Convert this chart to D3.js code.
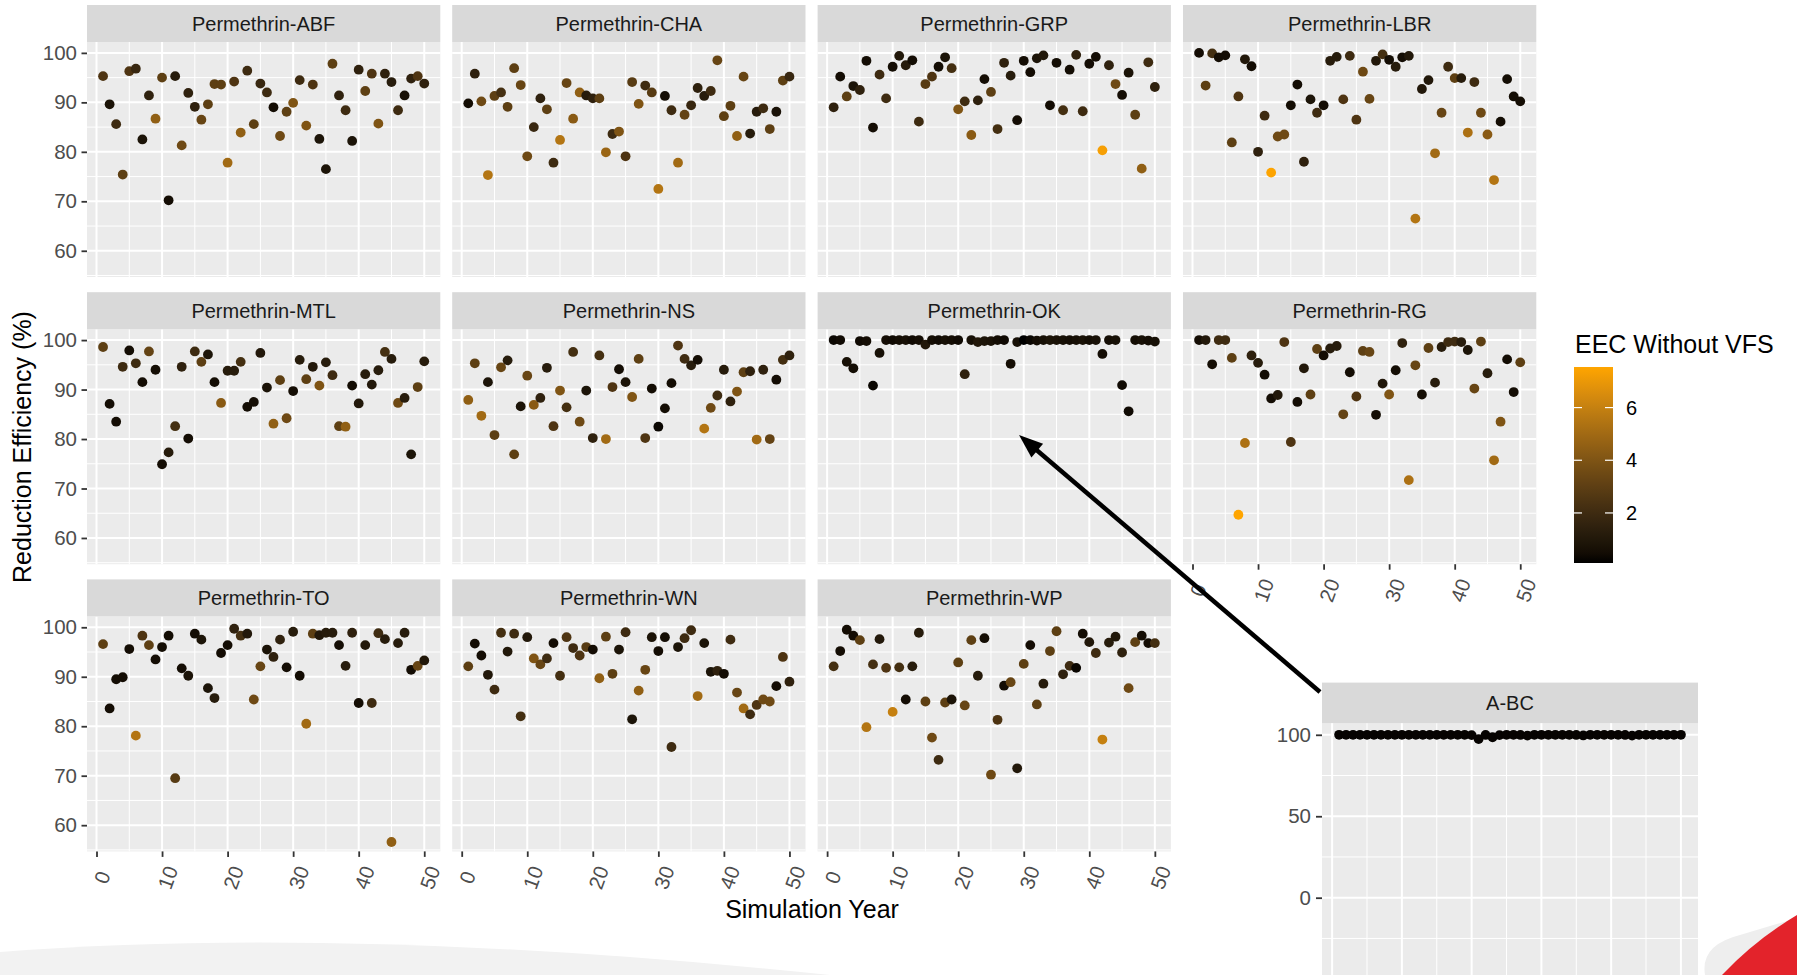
<!DOCTYPE html>
<html><head><meta charset="utf-8">
<script src="https://cdn.jsdelivr.net/npm/d3@7"></script>
<style>
html,body{margin:0;padding:0;background:#fff;}
svg{display:block;font-family:"Liberation Sans",Arial,sans-serif;}
</style></head><body>
<svg id="chart" width="1797" height="975"></svg>
<script>
// Simulation years shared by every facet
const years = d3.range(1, 51);

// Reduction efficiency (%) and EEC without VFS, one pair of arrays per site
const abfEff = [95.3,89.6,85.6,75.4,96.3,96.8,82.5,91.4,86.7,95.0,70.2,95.3,81.3,91.9,89.1,86.5,89.6,93.7,93.6,77.8,94.2,83.9,96.4,85.6,93.8,92.0,89.0,83.2,88.1,89.9,94.5,85.3,93.6,82.6,76.5,97.8,91.4,88.4,82.2,96.6,92.3,95.8,85.7,95.8,94.1,88.4,91.4,94.8,95.3,93.8];
const abfEec = [2.5,0.8,2,3,2.5,1.8,0.8,1.5,4.5,3,0.5,1.2,3.5,1.5,1.5,3.3,3,3,3,5,2.5,4.5,2,3,1.8,2,0.5,3.5,3,4,2,4,2.5,0.8,0.8,3,1.5,2,0.8,1.5,3,2.5,4,1.5,1.2,2,0.7,1.5,2.5,1.5];

const chaEff = [89.8,95.8,90.2,75.3,91.3,92.0,89.1,96.9,93.5,79.1,85.0,90.8,88.6,77.8,82.4,93.9,86.7,92.0,91.4,90.8,90.8,79.9,83.6,84.1,79.1,94.1,89.7,93.4,92.0,72.5,91.3,88.4,77.8,87.5,89.4,92.9,91.3,92.3,98.5,87.2,89.3,83.2,95.2,83.7,88.1,88.8,84.6,88.1,94.4,95.2];
const chaEec = [0.5,1.5,3.5,5.5,3,2.2,3,3,3.3,3.5,1.8,1.5,3,2,5.5,3.3,4.3,4.5,1.2,1.5,3,4.8,2,4,2.5,2.8,4,2,2.8,5.5,0.5,2,5,3.2,1.8,1.5,1.2,2,3.3,3,3,4.5,3.3,1.2,1.2,2,3,0.7,3,1.8];

const grpEff = [89.0,95.2,91.2,93.3,92.5,98.4,84.9,95.6,90.8,97.2,99.4,97.5,98.5,86.1,93.7,95.2,97.2,99.1,96.9,88.6,90.2,83.4,90.4,94.7,92.1,84.6,98.0,95.4,86.4,98.4,96.1,98.9,99.5,89.4,98.0,88.4,96.6,99.6,88.2,97.8,99.2,80.3,97.5,93.7,91.5,96.0,87.5,76.6,98.1,93.1];
const grpEec = [1.5,0.5,3,0.8,1.5,0.5,0.5,2,2,0.5,1,1.2,0.5,2,2.8,2.5,0.5,0.8,2.2,4,2,4.3,1.5,0.5,3,2.2,1.5,1.2,0.5,0.5,0.5,0.8,1,0.5,0.5,2.2,0.5,1.5,2,0.5,0.5,7.3,1.5,3.5,0.5,0.8,3,4.5,2,1.5];

const lbrEff = [100.0,93.4,99.9,99.1,99.5,81.9,91.2,98.7,97.3,80.0,87.3,75.8,83.1,83.5,89.4,93.6,78.0,90.6,87.9,89.4,98.4,99.2,90.6,99.4,86.5,96.2,90.7,98.4,99.7,98.6,97.2,99.1,99.4,66.5,92.7,94.5,79.7,87.9,97.2,94.9,94.9,83.9,94.1,87.9,83.5,74.3,86.1,94.7,91.2,90.2];
const lbrEec = [0.5,3,2.2,0.5,0.5,3,2.5,1,0.5,1.5,2,7.5,3.5,3.5,0.5,0.5,1.5,0.8,2,0.5,1.2,1.2,2.5,2,2.5,3.5,3.3,1,2.2,0.5,1.2,0.5,1,5.5,1,1,5,3.3,2,3,1.2,5.3,2,3.5,4.3,5.5,0.5,0.5,0.5,0.5];

const mtlEff = [98.6,87.1,83.5,94.6,97.9,95.3,91.5,97.7,94.0,74.9,77.3,82.6,94.6,80.1,97.7,95.6,97.1,91.5,87.3,93.8,93.8,95.6,86.5,87.5,97.4,90.4,83.1,91.9,84.2,89.7,96.0,92.1,94.6,90.8,95.5,92.9,82.6,82.5,90.8,87.2,93.1,91.0,93.9,97.6,96.2,87.3,88.3,76.9,90.5,95.7];
const mtlEec = [3,0.5,0.5,2,0.5,2,0.5,3.2,0.5,0.5,1.2,2.2,1.5,0.5,2,3,0.8,0.5,4.3,1.2,1.2,2.2,0.5,0.5,1,0.8,4.5,3,3.5,0.5,1.2,3,1,4,1.2,2,3,4.5,0.5,1,1.2,1,1.2,2.2,1.2,3.5,1.2,0.8,3,1.2];

const nsEff = [87.9,95.3,84.7,91.5,80.8,94.5,95.9,76.9,86.6,92.8,86.9,88.3,94.4,82.6,89.8,86.4,97.6,83.5,89.8,80.2,96.9,80.0,90.5,94.1,91.5,88.5,96.2,80.2,90.2,82.5,86.2,91.3,98.9,96.2,94.9,96.0,82.1,86.3,88.8,94.0,87.6,89.6,93.5,93.7,79.9,94.0,80.0,92.0,96.0,96.9];
const nsEec = [4.5,3,5,0.8,3,3.3,1.2,3,0.8,3.3,4.3,1.5,1.2,2.5,4,2.2,2.2,3.5,0.8,1.5,2.2,5,2.5,0.5,0.8,4,3,2.5,0.5,0.3,0.5,0.5,2.5,2,1.2,0.5,5.5,3.5,2,1.2,1.5,4,3,1.5,5,1.5,3.2,0.5,2.2,1.5];

const okEff = [100,100,95.6,94.3,99.8,99.8,90.8,97.4,100,100,100,100,100,100,99.1,100,100,100,100,100,93.1,100,99.6,99.8,99.8,100,100,95.2,99.6,100,100,99.9,100,100,100,100,100,100,100,100,100,97.2,100,100,90.9,85.6,100,100,99.9,99.7];
const okEec = [0.3,0.4,0.6,0.5,0.4,0.5,0.3,0.6,0.5,0.4,0.5,0.6,0.4,0.5,1.0,0.5,0.4,0.6,0.5,0.4,1.5,0.6,1.0,0.8,0.7,0.5,0.4,0.5,0.6,0.1,0.3,0.5,0.6,0.8,0.7,0.6,0.5,0.6,0.7,0.5,0.6,0.5,0.5,0.6,0.4,0.4,0.5,0.6,0.5,0.6];

const rgEff = [100,100,95.1,100,100,96.4,64.7,79.2,96.9,95.4,93.0,88.2,88.9,99.6,79.4,87.5,94.3,89.0,98.2,96.9,98.3,98.8,85.0,93.5,88.6,97.8,97.6,84.9,91.2,89.0,93.9,99.4,71.7,94.9,89.0,98.4,91.4,98.6,99.6,99.7,99.6,98.0,90.2,99.7,93.3,75.7,83.5,96.1,89.5,95.5];
const rgEec = [0.5,1,0.5,2,2,3,7.54,5.3,1.5,1.2,0.5,0.5,1,2.5,2.5,0.5,1,3,3,0.5,1.2,1.2,3.2,0.5,2.5,3,3.3,0.5,1,4,0.5,1.5,5.3,3.3,0.5,3,1.2,1.2,2,2,1.2,0.8,3.3,3,1.2,5,4,0.5,0.5,3];

const toEff = [96.6,83.6,89.5,89.9,95.6,78.1,98.3,96.4,93.5,96.0,98.3,69.5,91.7,90.2,98.7,97.5,87.7,85.7,94.8,96.4,99.7,98.3,98.7,85.4,92.1,95.5,94.0,97.5,91.9,99.1,90.2,80.5,98.7,98.4,98.9,98.9,96.4,92.2,98.9,84.7,96.4,84.7,98.8,97.6,56.6,96.8,98.9,91.4,92.2,93.3];
const toEec = [3,0.5,0.5,0.5,0.5,5.5,2.5,3,0.5,0.5,0.5,2.8,0.5,0.8,0.5,0.8,0.8,1.2,0.5,0.5,1.5,2.2,1,3.5,3.3,0.8,1.5,1.5,0.5,1.2,0.5,5,3,1,1.2,1.2,0.5,1.2,1.5,0.5,1,2,2,1.2,4.5,1.2,1.2,0.5,3.3,1];

const wnEff = [92.1,96.7,94.3,90.4,87.4,98.9,95.1,98.7,82.0,98.0,93.7,92.5,93.7,96.8,90.2,98.0,95.8,94.3,96.0,95.5,89.7,98.1,90.6,95.5,99.0,81.4,87.2,91.4,98.0,95.2,98.0,75.8,96.0,97.8,99.4,86.1,96.8,91.0,91.2,90.6,97.5,86.8,83.6,82.4,84.3,85.4,85.0,88.1,94.0,89.0];
const wnEec = [3,0.5,0.5,1,2,2.2,1,2,2.2,1,4,3.3,2,0.5,2.2,2.5,2,2.5,2.8,0.5,4.5,3,3,0.8,2,0.8,4.5,3.3,0.8,0.5,0.5,2,0.8,2,2,5,0.8,0.8,1.5,0.5,2,3.3,5,2,2.5,3.5,3.5,0.5,2.5,1.5];

const wpEff = [92.1,95.2,99.5,98.3,97.4,79.8,92.5,97.6,91.8,82.9,91.9,85.4,92.1,98.9,85.0,77.7,73.2,84.8,85.4,92.9,84.2,97.4,90.2,97.8,70.2,81.3,88.2,88.9,71.5,92.6,96.4,84.4,88.6,95.2,99.2,90.5,92.2,91.8,98.7,97.0,94.8,77.3,96.9,98.1,94.9,87.7,97.0,98.3,96.8,96.8];
const wpEec = [2.2,0.5,0.5,0.5,3,5.5,2.2,1,2.5,6,2.2,0.5,1.2,1.2,3,3.5,2,3,0.8,3,3.3,3,1.2,0.5,3.5,2.5,0.5,3.3,1,3,0.5,3,1.2,3,3,1.5,2,0.3,0.5,1,2,6,1.2,1,1.5,3.5,3,0.5,0.5,2.2];

// Separate A-BC run shown in the inset
const abcEff = [100,100,100,100,100,100,100,100,100,100,100,100,100,100,100,100,100,100,100,99.8,97.4,99.9,98.5,99.8,100,100,99.9,99.5,100,100,100,100,100,100,99.9,99.6,100,100,100,100,100,99.9,99.5,100,100,100,100,100,100,100];
const abcEec = years.map(() => 0.2);

const siteNames = ["Permethrin-ABF","Permethrin-CHA","Permethrin-GRP","Permethrin-LBR",
                   "Permethrin-MTL","Permethrin-NS","Permethrin-OK","Permethrin-RG",
                   "Permethrin-TO","Permethrin-WN","Permethrin-WP"];
const effSeries = [abfEff,chaEff,grpEff,lbrEff,mtlEff,nsEff,okEff,rgEff,toEff,wnEff,wpEff];
const eecSeries = [abfEec,chaEec,grpEec,lbrEec,mtlEec,nsEec,okEec,rgEec,toEec,wnEec,wpEec];

const effTicks = [60,70,80,90,100];
const effMinor = [55,65,75,85,95];
const yearTicks = [0,10,20,30,40,50];
const yearMinor = [5,15,25,35,45];
const eecTicks = [2,4,6];
const abcTicks = [0,50,100];
const abcMinor = [-25,25,75];

// ---------------- layout ----------------
const svg = d3.select("#chart");
const colLeft = [87, 452.2, 817.6, 1183];
const rowTop = [42, 329.2, 616.4];
const panelW = 353.3, panelH = 235, stripH = 37;
const ptR = 4.9;

const x = d3.scaleLinear().domain([-1.45, 52.45]).range([0, panelW]);
const y = d3.scaleLinear().domain([54.7, 102.2]).range([panelH, 0]);
const allEec = eecSeries.flat();
const color = d3.scaleSequential(d3.interpolateLab("#000000", "#FFA500")).domain(d3.extent(allEec));

const facets = siteNames.map((name, i) => ({
  name, row: Math.floor(i / 4), col: i % 4,
  pts: years.map((yr, k) => ({yr, eff: effSeries[i][k], eec: eecSeries[i][k]}))
}));

function styleAxis(g) {
  g.select(".domain").remove();
  g.selectAll(".tick line").attr("stroke", "#333333").attr("stroke-width", 1.8);
  g.selectAll(".tick text").attr("fill", "#4D4D4D").attr("font-size", 20.5)
    .attr("font-family", "Liberation Sans, Arial, sans-serif");
}

facets.forEach((f, i) => {
  const g = svg.append("g").attr("transform", `translate(${colLeft[f.col]},${rowTop[f.row]})`);
  g.append("rect").attr("width", panelW).attr("height", panelH).attr("fill", "#EBEBEB");
  // minor grid
  g.selectAll(".hmin").data(effMinor).join("line").attr("class","hmin")
    .attr("x1", 0).attr("x2", panelW).attr("y1", d => y(d)).attr("y2", d => y(d))
    .attr("stroke", "#fff").attr("stroke-width", 1);
  g.selectAll(".vmin").data(yearMinor).join("line").attr("class","vmin")
    .attr("y1", 0).attr("y2", panelH).attr("x1", d => x(d)).attr("x2", d => x(d))
    .attr("stroke", "#fff").attr("stroke-width", 1);
  // major grid
  g.selectAll(".hmaj").data(effTicks).join("line").attr("class","hmaj")
    .attr("x1", 0).attr("x2", panelW).attr("y1", d => y(d)).attr("y2", d => y(d))
    .attr("stroke", "#fff").attr("stroke-width", 2);
  g.selectAll(".vmaj").data(yearTicks).join("line").attr("class","vmaj")
    .attr("y1", 0).attr("y2", panelH).attr("x1", d => x(d)).attr("x2", d => x(d))
    .attr("stroke", "#fff").attr("stroke-width", 2);
  // strip
  g.append("rect").attr("y", -stripH).attr("width", panelW).attr("height", stripH).attr("fill", "#D9D9D9");
  g.append("text").attr("x", panelW / 2).attr("y", -stripH / 2).attr("dy", "0.35em")
    .attr("text-anchor", "middle").attr("font-size", 20).attr("fill", "#1A1A1A").text(f.name);
  // points
  g.selectAll("circle").data(f.pts).join("circle")
    .attr("cx", d => x(d.yr)).attr("cy", d => y(d.eff)).attr("r", ptR)
    .attr("fill", d => color(d.eec));
  // y axis on first column
  if (f.col === 0) {
    g.append("g").call(d3.axisLeft(y).tickValues(effTicks).tickSize(5.5).tickPadding(4.5)).call(styleAxis);
  }
  // x axis where no facet sits below
  if (i + 4 >= facets.length) {
    const ax = g.append("g").attr("transform", `translate(0,${panelH})`)
      .call(d3.axisBottom(x).tickValues(yearTicks).tickSize(5.5)).call(styleAxis);
    ax.selectAll(".tick text").attr("y", null).attr("dy", null)
      .attr("text-anchor", "middle").attr("dominant-baseline", "central")
      .attr("transform", "translate(5,26) rotate(-70)");
  }
});

// axis titles
svg.append("text").attr("transform", "translate(22,447) rotate(-90)")
  .attr("text-anchor", "middle").attr("dominant-baseline", "central")
  .attr("font-size", 25).attr("fill", "#000").text("Reduction Efficiency (%)");
svg.append("text").attr("x", 812).attr("y", 909).attr("dominant-baseline", "central")
  .attr("text-anchor", "middle").attr("font-size", 25).attr("fill", "#000").text("Simulation Year");

// ---------------- colour legend ----------------
const legX = 1574, legTop = 367, legW = 39, legH = 196;
const leg = d3.scaleLinear().domain(color.domain()).range([legTop + legH, legTop]);
const defs = svg.append("defs");
const grad = defs.append("linearGradient").attr("id", "eecGrad")
  .attr("x1", 0).attr("x2", 0).attr("y1", 1).attr("y2", 0);
d3.range(0, 1.0001, 0.05).forEach(t => {
  const v = color.domain()[0] + t * (color.domain()[1] - color.domain()[0]);
  grad.append("stop").attr("offset", t).attr("stop-color", color(v));
});
svg.append("text").attr("x", legX + 1).attr("y", 353).attr("font-size", 25).attr("fill", "#000")
  .text("EEC Without VFS");
svg.append("rect").attr("x", legX).attr("y", legTop).attr("width", legW).attr("height", legH)
  .attr("fill", "url(#eecGrad)");
eecTicks.forEach(v => {
  svg.append("line").attr("x1", legX).attr("x2", legX + 8).attr("y1", leg(v)).attr("y2", leg(v))
    .attr("stroke", "#fff").attr("stroke-width", 1.2);
  svg.append("line").attr("x1", legX + legW - 8).attr("x2", legX + legW).attr("y1", leg(v)).attr("y2", leg(v))
    .attr("stroke", "#fff").attr("stroke-width", 1.2);
  svg.append("text").attr("x", legX + 52).attr("y", leg(v)).attr("dy", "0.35em")
    .attr("font-size", 20).attr("fill", "#000").text(v);
});

// ---------------- A-BC inset ----------------
const inL = 1322, inR = 1698, inStripTop = 682.6, inTop = 723.1, inBottom = 1000;
const xi = d3.scaleLinear().domain([-1.45, 52.45]).range([inL, inR]);
const yi = d3.scaleLinear().domain([0, 100]).range([897.7, 734.8]);
const ig = svg.append("g");
ig.append("rect").attr("x", inL).attr("y", inTop).attr("width", inR - inL).attr("height", inBottom - inTop).attr("fill", "#EBEBEB");
ig.selectAll(".imin").data(abcMinor).join("line").attr("class","imin")
  .attr("x1", inL).attr("x2", inR).attr("y1", d => yi(d)).attr("y2", d => yi(d)).attr("stroke", "#fff").attr("stroke-width", 1);
ig.selectAll(".ivmin").data(yearMinor).join("line").attr("class","ivmin")
  .attr("y1", inTop).attr("y2", inBottom).attr("x1", d => xi(d)).attr("x2", d => xi(d)).attr("stroke", "#fff").attr("stroke-width", 1);
ig.selectAll(".imaj").data(abcTicks.concat([-50])).join("line").attr("class","imaj")
  .attr("x1", inL).attr("x2", inR).attr("y1", d => yi(d)).attr("y2", d => yi(d)).attr("stroke", "#fff").attr("stroke-width", 2);
ig.selectAll(".ivmaj").data(yearTicks).join("line").attr("class","ivmaj")
  .attr("y1", inTop).attr("y2", inBottom).attr("x1", d => xi(d)).attr("x2", d => xi(d)).attr("stroke", "#fff").attr("stroke-width", 2);
ig.append("rect").attr("x", inL).attr("y", inStripTop).attr("width", inR - inL).attr("height", inTop - inStripTop).attr("fill", "#D9D9D9");
ig.append("text").attr("x", (inL + inR) / 2).attr("y", (inStripTop + inTop) / 2).attr("dy", "0.35em")
  .attr("text-anchor", "middle").attr("font-size", 20).attr("fill", "#1A1A1A").text("A-BC");
ig.selectAll("circle").data(years.map((yr, k) => ({yr, eff: abcEff[k], eec: abcEec[k]}))).join("circle")
  .attr("cx", d => xi(d.yr)).attr("cy", d => yi(d.eff)).attr("r", ptR).attr("fill", d => color(d.eec));
ig.append("g").attr("transform", `translate(${inL},0)`)
  .call(d3.axisLeft(yi).tickValues(abcTicks).tickSize(6).tickPadding(5)).call(styleAxis);

// ---------------- arrow pointing from the inset to the OK facet ----------------
const arrowTail = [1320, 692], arrowTip = [1019, 435];
const dx = arrowTip[0] - arrowTail[0], dy = arrowTip[1] - arrowTail[1];
const len = Math.hypot(dx, dy), ux = dx / len, uy = dy / len;
const headL = 24, headW = 9;
const bx = arrowTip[0] - headL * ux, by = arrowTip[1] - headL * uy;
svg.append("line").attr("x1", arrowTail[0]).attr("y1", arrowTail[1]).attr("x2", bx + 4 * ux).attr("y2", by + 4 * uy)
  .attr("stroke", "#000").attr("stroke-width", 4.5);
svg.append("path").attr("d", `M${arrowTip[0]},${arrowTip[1]}L${bx - headW * uy},${by + headW * ux}L${bx + headW * uy},${by - headW * ux}Z`)
  .attr("fill", "#000");

// ---------------- slide decoration at the bottom edge ----------------
svg.append("path").attr("d", "M0,952 Q350,925 830,975 L0,975 Z").attr("fill", "#F2F2F2");
svg.append("path").attr("d", "M1705,975 Q1700,945 1740,935 L1797,918 L1797,975 Z").attr("fill", "#EEEEEE");
svg.append("path").attr("d", "M1722,975 Q1755,940 1797,915 L1797,975 Z").attr("fill", "#E3232B");
</script>
</body></html>
